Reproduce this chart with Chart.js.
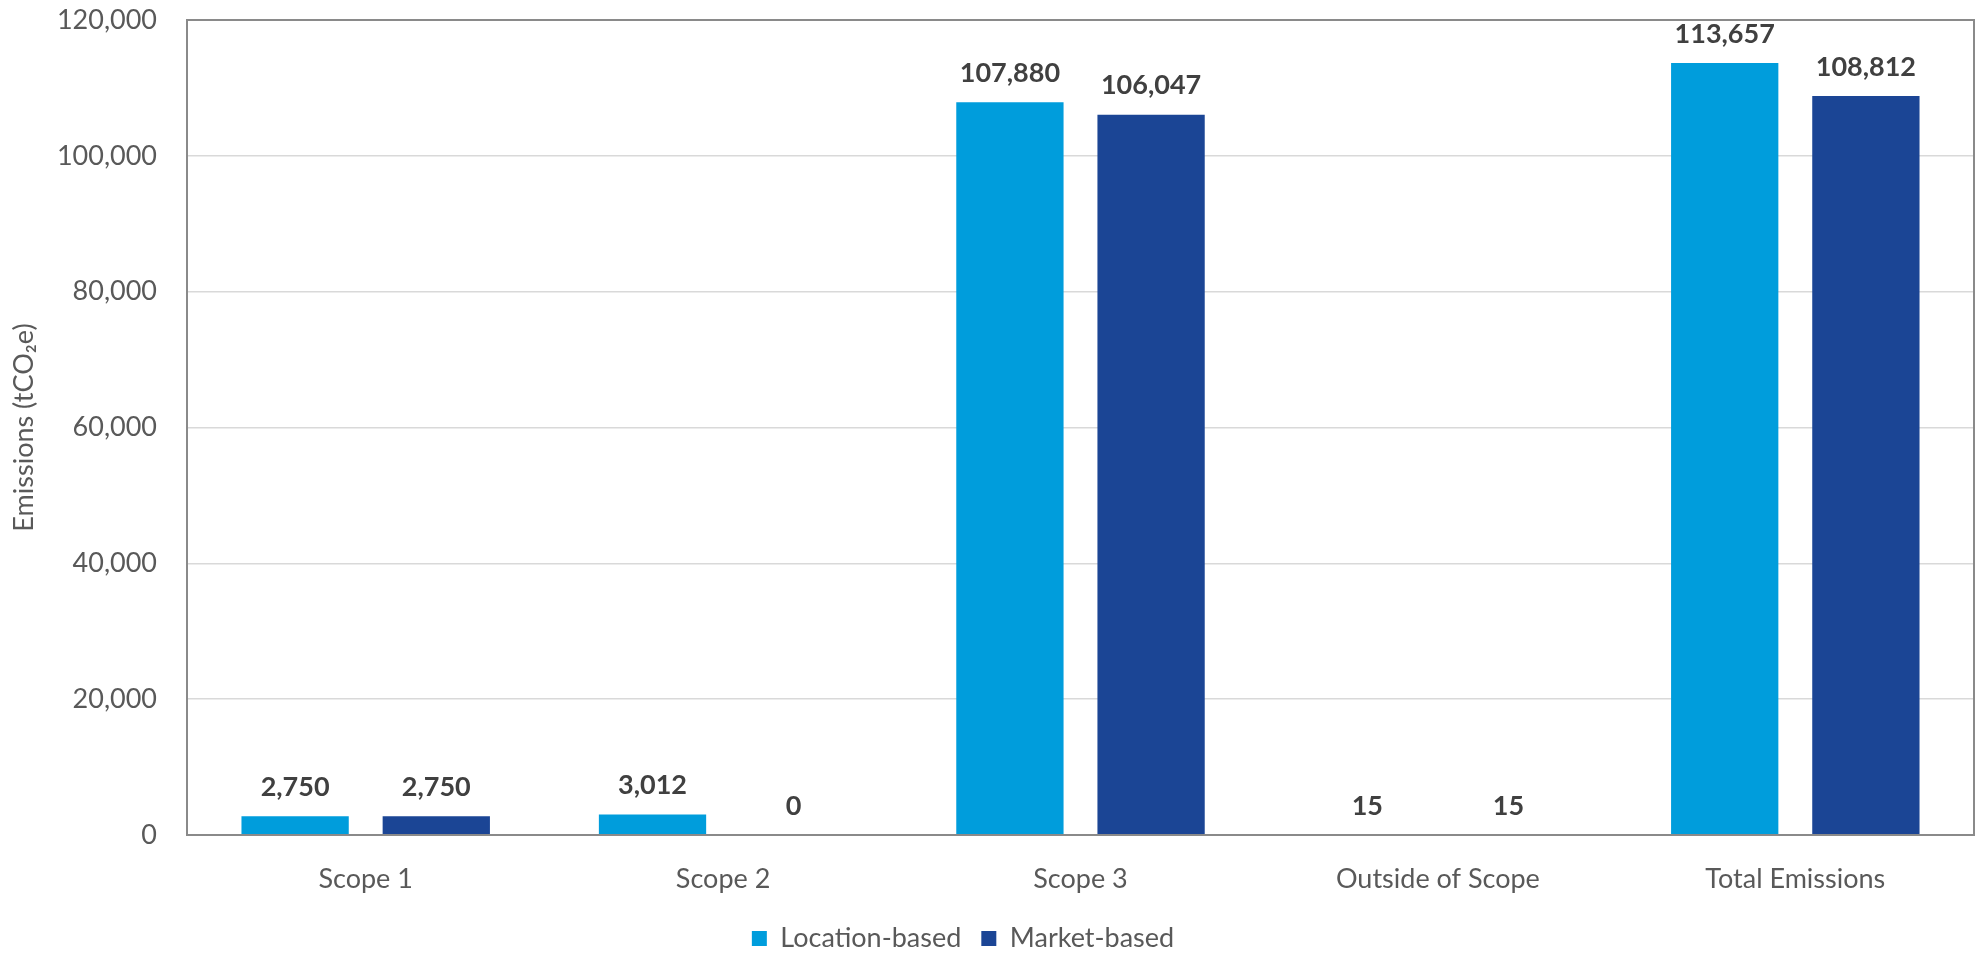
<!DOCTYPE html>
<html>
<head>
<meta charset="utf-8">
<script src="https://cdn.jsdelivr.net/npm/chart.js@4"></script>
<style>
  html, body { margin: 0; padding: 0; background: #ffffff; overflow: hidden; }
  #wrap { width: 1975px; height: 962px; position: relative; }
</style>
</head>
<body>
<div id="wrap"><canvas id="emissions-chart"></canvas></div>
<script>
const categories = ["Scope 1", "Scope 2", "Scope 3", "Outside of Scope", "Total Emissions"];
const locationBased = [2750, 3012, 107880, 15, 113657];
const marketBased = [2750, 0, 106047, 15, 108812];
const yTicks = [0, 20000, 40000, 60000, 80000, 100000, 120000];

const fontFamily = "Lato, 'Open Sans', sans-serif";

// value labels above every bar
const barLabels = {
    id: 'barLabels',
    afterDatasetsDraw(chart)
    {
        const c = chart.ctx;
        c.save();
        c.font = "bold 27px " + fontFamily;
        c.fillStyle = '#404040';
        c.textAlign = 'center';
        c.textBaseline = 'middle';
        chart.data.datasets.forEach((ds, i) =>
        {
            chart.getDatasetMeta(i).data.forEach((bar, j) =>
            {
                c.fillText(ds.data[j].toLocaleString('en-US'), bar.x, bar.y - 29);
            });
        });
        c.restore();
    }
};

// plot area frame
const plotFrame = {
    id: 'plotFrame',
    afterDraw(chart)
    {
        const a = chart.chartArea;
        const c = chart.ctx;
        c.save();
        c.strokeStyle = '#8a8a8a';
        c.lineWidth = 2;
        c.strokeRect(a.left, a.top, a.right - a.left, a.bottom - a.top);
        c.restore();
    }
};

// legend sits a little left of the canvas centre
const legendShift = {
    id: 'legendShift',
    afterLayout(chart)
    {
        chart.legend.left -= 24;
        chart.legend.right -= 24;
    }
};

const ctx = document.getElementById('emissions-chart');

var chart = new Chart(ctx,
    {
    type: 'bar',
    data:
    {
        labels: categories,
        datasets:
        [{
            label: 'Location-based',
            data: locationBased,
            backgroundColor: '#009ddc'
        },
        {
            label: 'Market-based',
            data: marketBased,
            backgroundColor: '#1b4595'
        }]
    },
    options:
    {
        responsive: true,
        maintainAspectRatio: false,
        animation: false,
        datasets:
        {
            bar:
            {
                categoryPercentage: 0.79,
                barPercentage: 0.76
            }
        },
        layout:
        {
            padding: { top: 20, right: 1, left: 0, bottom: 0 }
        },
        scales:
        {
            x:
            {
                grid: { display: false, drawTicks: false },
                border: { display: false },
                ticks:
                {
                    color: '#595959',
                    font: { family: fontFamily, size: 27 },
                    padding: 28,
                    maxRotation: 0
                },
                afterFit(scale) { scale.height = 70; }
            },
            y:
            {
                min: 0,
                max: 120000,
                afterBuildTicks(scale) { scale.ticks = yTicks.map(v => ({ value: v })); },
                grid: { color: '#d9d9d9', lineWidth: 1.5, drawTicks: false },
                border: { display: false },
                ticks:
                {
                    color: '#595959',
                    font: { family: fontFamily, size: 27 },
                    padding: 30,
                    callback: v => v.toLocaleString('en-US')
                },
                title:
                {
                    display: true,
                    text: 'Emissions (tCO₂e)',
                    color: '#595959',
                    font: { family: fontFamily, size: 27 },
                    padding: { top: 8, bottom: 0 }
                },
                afterFit(scale)
                {
                    scale.width = 187;
                    scale.paddingTop = 0;
                    scale.paddingBottom = 0;
                }
            }
        },
        plugins:
        {
            legend:
            {
                position: 'bottom',
                labels:
                {
                    color: '#595959',
                    font: { family: fontFamily, size: 27 },
                    boxWidth: 15,
                    boxHeight: 15,
                    padding: 20
                }
            },
            tooltip: { enabled: false }
        }
    },
    plugins: [barLabels, plotFrame, legendShift]
});
</script>
</body>
</html>
